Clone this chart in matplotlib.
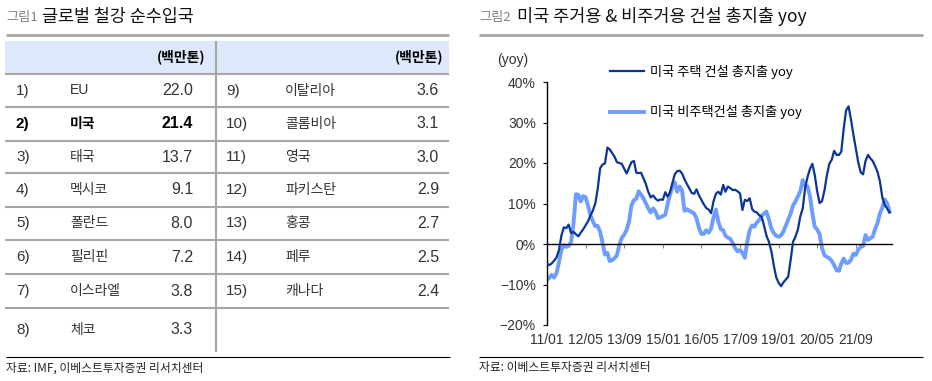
import pandas as pd
import matplotlib
matplotlib.use("Agg")
import matplotlib.pyplot as plt
from matplotlib.patches import Rectangle

KR = ["Noto Sans CJK KR", "DejaVu Sans"]
NARROW = ["Liberation Sans Narrow", "Liberation Sans", "Noto Sans CJK KR"]

# ---- data: 그림1 글로벌 철강 순수입국 (백만톤)
ranks_left = ["1)", "2)", "3)", "4)", "5)", "6)", "7)", "8)"]
names_left = ["EU", "미국", "태국", "멕시코", "폴란드", "필리핀", "이스라엘", "체코"]
values_left = [22.0, 21.4, 13.7, 9.1, 8.0, 7.2, 3.8, 3.3]
ranks_right = ["9)", "10)", "11)", "12)", "13)", "14)", "15)"]
names_right = ["이탈리아", "콜롬비아", "영국", "파키스탄", "홍콩", "페루", "캐나다"]
values_right = [3.6, 3.1, 3.0, 2.9, 2.7, 2.5, 2.4]

# ---- data: 그림2 미국 주거용 & 비주거용 건설 총지출 yoy (%), monthly from 2011/01
housing = [
    -4.9, -5.2, -4.8, -4.1, -3.3, -1.5, 2.0, 4.1, 3.9, 4.8,
    2.7, 3.0, 2.4, 1.9, 2.8, 3.6, 4.6, 5.6, 7.0, 8.2,
    10.0, 13.5, 18.7, 19.6, 19.9, 23.8, 23.4, 22.5, 21.6, 20.2,
    20.0, 19.8, 18.6, 17.4, 18.8, 20.2, 20.5, 17.6, 17.5, 17.6,
    16.3, 14.8, 12.9, 11.5, 12.0, 11.2, 10.7, 11.0, 10.9, 12.8,
    11.7, 12.7, 15.0, 17.2, 18.0, 18.1, 17.4, 16.0, 14.8, 13.7,
    12.6, 12.4, 13.5, 12.0, 10.9, 9.8, 8.9, 8.5, 7.6, 10.5,
    12.4, 12.9, 12.2, 14.6, 12.9, 14.2, 13.8, 13.3, 13.4, 13.0,
    12.5, 8.4, 10.9, 10.6, 11.3, 8.6, 8.0, 7.8, 7.1, 6.7,
    4.5, 2.0, 0.5, -1.8, -5.3, -8.2, -9.6, -10.4, -9.5, -8.8,
    -8.1, -4.0, 0.5, 1.8, 3.6, 6.8, 8.8, 13.8, 16.6, 18.6,
    19.8, 17.0, 13.0, 10.1, 10.6, 13.2, 17.0, 19.8, 20.8, 23.0,
    22.0, 22.0, 22.8, 28.5, 33.0, 34.0, 30.8, 27.0, 23.5, 20.2,
    17.7, 17.2, 20.5, 22.0, 21.2, 20.5, 19.3, 17.8, 15.5, 11.5,
    9.6, 8.7, 7.8,
]
nonres = [
    -8.9, -8.3, -7.6, -8.3, -7.2, -4.5, -1.5, -0.3, -0.7, -0.5,
    0.5, 5.0, 12.3, 12.1, 10.5, 11.8, 11.6, 9.5, 7.2, 5.6,
    4.4, 4.5, 3.0, 0.4, -2.6, -2.2, -4.2, -4.0, -3.5, -2.8,
    -0.2, 1.5, 2.3, 3.5, 5.5, 9.5, 10.8, 11.2, 13.0, 12.2,
    11.3, 10.0, 8.8, 7.8, 8.8, 8.0, 6.4, 6.6, 6.9, 7.2,
    9.8, 12.2, 13.9, 15.2, 12.9, 14.2, 13.2, 8.2, 8.6, 8.2,
    7.9, 7.5, 6.3, 4.0, 2.5, 2.5, 3.4, 2.8, 3.8, 6.5,
    8.5, 5.5, 3.7, 3.4, 2.0, 1.6, 1.3, 0.2, -1.0, -1.8,
    -1.5, -2.2, -3.4, 0.5, 3.4, 4.6, 4.3, 5.3, 5.9, 7.0,
    7.5, 8.0, 6.0, 3.8, 2.7, 2.0, 1.8, 2.2, 3.0, 4.5,
    6.0, 7.5, 9.5, 10.5, 11.8, 13.0, 15.8, 14.4, 14.2, 11.8,
    7.6, 4.2, 3.6, 2.4, -1.0, -2.8, -3.2, -3.5, -4.2, -5.2,
    -6.5, -6.6, -4.8, -3.6, -4.7, -4.6, -3.9, -2.4, -2.7, -1.4,
    -0.7, -0.5, 2.2, 1.0, 1.4, 1.8, 3.6, 5.2, 7.5, 9.0,
    11.0, 10.0, 8.0,
]
x_ticks = ["2011-01", "2012-05", "2013-09", "2015-01", "2016-05",
           "2017-09", "2019-01", "2020-05", "2021-09"]
x_labels = ["11/01", "12/05", "13/09", "15/01", "16/05", "17/09", "19/01", "20/05", "21/09"]
y_ticks = [-20, -10, 0, 10, 20, 30, 40]
y_labels = ["\u221220%", "\u221210%", "0%", "10%", "20%", "30%", "40%"]

months = pd.date_range("2011-01-01", periods=len(housing), freq="MS")

W, H = 932, 381
fig = plt.figure(figsize=(W / 100, H / 100), dpi=100)

# overlay in pixel coordinates for the table and the page furniture
ov = fig.add_axes([0, 0, 1, 1], zorder=0)
ov.set_xlim(0, W)
ov.set_ylim(H, 0)
ov.axis("off")

GRAY = "#a6a6a6"
TXT = "#333333"

# titles
ov.text(6, 18, "그림1", family=KR, fontsize=9.5, color="#808080", va="center")
ov.text(42, 17, "글로벌 철강 순수입국", family=KR, fontsize=12.5, color="#111111", va="center")
ov.text(479, 18, "그림2", family=KR, fontsize=9.5, color="#808080", va="center")
ov.text(517, 17, "미국 주거용 & 비주거용 건설 총지출 yoy", family=KR, fontsize=12.6,
        color="#111111", va="center")
ov.hlines(34.5, 6, 449, color=GRAY, lw=2)
ov.hlines(34.5, 479, 923, color=GRAY, lw=2)

# table
ov.add_patch(Rectangle((5, 41), 444, 33, color="#dde8fa", lw=0))
row_edges = [74, 107, 141, 173, 207, 240, 274, 308, 352]
for y in row_edges[:-1]:
    ov.hlines(y, 5, 449, color=GRAY, lw=1.5)
ov.vlines(216, 41, 352, color=GRAY, lw=1.5)
ov.text(205, 57, "(백만톤)", family=KR, fontsize=10, weight="bold", ha="right", va="center")
ov.text(443, 57, "(백만톤)", family=KR, fontsize=10, weight="bold", ha="right", va="center")

centers = [(a + b) / 2 for a, b in zip(row_edges[:-1], row_edges[1:])]
for i, (r, n, v) in enumerate(zip(ranks_left, names_left, values_left)):
    bold = r == "2)"
    w = "bold" if bold else "normal"
    c = "black" if bold else TXT
    y = centers[i]
    ov.text(16, y, r, family=NARROW, fontsize=11, weight=w, va="center", color=c)
    ov.text(70, y, n, family=NARROW, fontsize=10, weight=w, va="center", color=c)
    ov.text(193, y, f"{v:.1f}", family=NARROW, fontsize=11.5, weight=w, ha="right",
            va="center", color=c)
for i, (r, n, v) in enumerate(zip(ranks_right, names_right, values_right)):
    y = centers[i]
    ov.text(226, y, r, family=NARROW, fontsize=11, va="center", color=TXT)
    ov.text(285, y, n, family=NARROW, fontsize=10, va="center", color=TXT)
    ov.text(439, y, f"{v:.1f}", family=NARROW, fontsize=11.5, ha="right", va="center",
            color=TXT)

# sources
ov.hlines(357, 6, 450, color="black", lw=0.8)
ov.hlines(357, 479, 923, color="black", lw=0.8)
ov.text(6, 368, "자료: IMF, 이베스트투자증권 리서치센터", family=KR, fontsize=8.5, va="center",
        color="#222222")
ov.text(479, 368, "자료: 이베스트투자증권 리서치센터", family=KR, fontsize=8.5, va="center",
        color="#222222")
ov.text(497, 60, "(yoy)", family=NARROW, fontsize=10, va="center", color=TXT)

# line chart
ax = fig.add_axes([547 / W, (H - 325) / H, (892 - 547) / W, (325 - 82) / H], zorder=1)
ax.patch.set_visible(False)
ax.plot(months, housing, color="#0b3595", lw=1.6, zorder=3, label="미국 주택 건설 총지출 yoy")
ax.plot(months, nonres, color="#6e9cff", lw=2.8, zorder=2, label="미국 비주택건설 총지출 yoy")
ax.set_xlim(months[0], pd.Timestamp("2022-12-01"))
ax.set_ylim(-20, 40)

for s in ["top", "right"]:
    ax.spines[s].set_visible(False)
ax.spines["bottom"].set_position(("data", 0))
ax.spines["bottom"].set_linewidth(1)
ax.spines["left"].set_linewidth(1)

tick_pos = pd.to_datetime(x_ticks)
ax.set_xticks(tick_pos)
ax.tick_params(axis="x", direction="out", length=3, color="#888888", labelbottom=False)
for d, lab in zip(tick_pos, x_labels):
    ax.text(d, -0.062, lab, transform=ax.get_xaxis_transform(), ha="center", va="center",
            family=NARROW, fontsize=10, color=TXT)

ax.set_yticks(y_ticks)
ax.set_yticklabels(y_labels, family=NARROW, fontsize=10, color=TXT)
ax.tick_params(axis="y", direction="out", length=3, pad=5)

ax.legend(loc="upper left", bbox_to_anchor=(610 / W, (H - 65) / H), bbox_transform=fig.transFigure,
          frameon=False, prop={"family": KR, "size": 9.5}, handlelength=2.6, handletextpad=0.4,
          labelspacing=2.0, borderpad=0, borderaxespad=0)

fig.savefig("out.png", dpi=100)
